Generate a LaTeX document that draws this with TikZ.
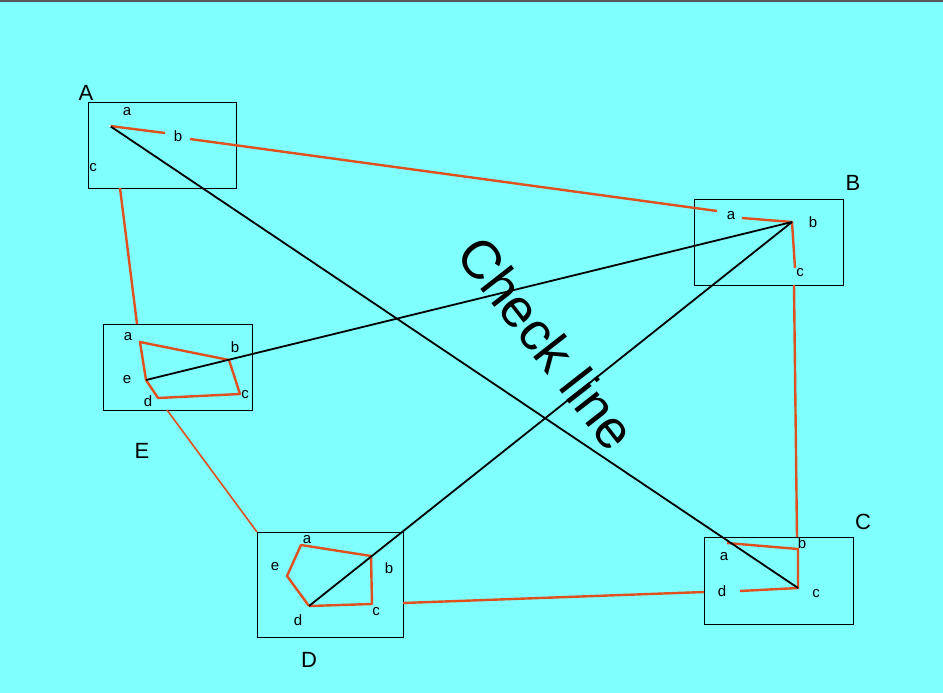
\documentclass[tikz,border=0pt]{standalone}
\usepackage{fontspec}
\setmainfont{Liberation Sans}
\definecolor{bg}{HTML}{80FFFF}
\definecolor{org}{HTML}{E0501E}
\begin{document}
\begin{tikzpicture}[x=1pt,y=-1pt,
  box/.style={draw=black,line width=0.7pt},
  ol/.style={draw=org,line width=2.4pt},
  bl/.style={draw=black,line width=1.8pt},
  lab/.style={font=\fontsize{15}{15}\selectfont},
  big/.style={font=\fontsize{22}{22}\selectfont}]
\fill[bg] (0,0) rectangle (943,693);
\fill[gray!70!black] (0,0) rectangle (943,2.5);
\useasboundingbox (0,0) rectangle (943,693);
% boxes
\draw[box] (88,102) rectangle (236,188);
\draw[box] (694,199) rectangle (843,285);
\draw[box] (704,537) rectangle (853,624);
\draw[box] (257,532) rectangle (403,637);
\draw[box] (103,324) rectangle (252,410);
% big labels
\node[big] (LA) at (86,93) {A};
\node[big] (LB) at (853,183) {B};
\node[big] (LC) at (863,522) {C};
\node[big] (LD) at (309,660) {D};
\node[big] (LE) at (142,451) {E};
% coordinates
\coordinate (Aa) at (110,126); \coordinate (Ab1) at (165,133); \coordinate (Ab2) at (190,139);
\coordinate (Ac) at (120,188);
\coordinate (Ba1) at (717,211); \coordinate (Ba2) at (742,218); \coordinate (Bb) at (792,222);
\coordinate (Bc1) at (795,268); \coordinate (Bc2) at (794,285);
\coordinate (Ca) at (727,543); \coordinate (Cb) at (798,549); \coordinate (Cbt) at (797,537);
\coordinate (Cc) at (798,588); \coordinate (Cd) at (740,591); \coordinate (Cl) at (704,592);
\coordinate (Dr) at (403,603);
\coordinate (Et) at (137,324); \coordinate (Ebl) at (167,410); \coordinate (Dtl) at (257,532);
\coordinate (Ea) at (140,342); \coordinate (Eb) at (229,360); \coordinate (Ec) at (240,394);
\coordinate (Ed) at (158,398); \coordinate (Ee) at (146,380);
\coordinate (Da) at (301,545); \coordinate (Db) at (371,556); \coordinate (Dc) at (372,604);
\coordinate (Dd) at (309,606); \coordinate (De) at (287,576);
% orange
\draw[ol] (Aa) -- (Ab1);
\draw[ol] (Ab2) -- (Ba1);
\draw[ol] (Ba2) -- (Bb) -- (Bc1);
\draw[ol] (Bc2) -- (Cbt);
\draw[ol] (Ca) -- (Cb) -- (Cc) -- (Cd);
\draw[ol] (Dr) -- (Cl);
\draw[ol] (Ac) -- (Et);
\draw[draw=org,line width=1.6pt] (Ebl) -- (Dtl);
\draw[ol,line join=round] (Ee) -- (Ea) -- (Eb) -- (Ec) -- (Ed) -- (Ee);
\draw[ol,line join=round] (Dd) -- (De) -- (Da) -- (Db) -- (Dc) -- (Dd);
% black
\draw[bl] (Aa) -- (Cc);
\draw[bl] (Ee) -- (Bb);
\draw[bl] (Dd) -- (Bb);
\fill[white] (Aa) circle (1.2);
% small labels
\node[lab] (la1) at (127,112) {a}; \node[lab] (la2) at (178,136) {b}; \node[lab] (la3) at (93,168) {c};
\node[lab] (lb1) at (731,216) {a}; \node[lab] (lb2) at (813,222) {b}; \node[lab] (lb3) at (800,273) {c};
\node[lab] (lc1) at (724,557) {a}; \node[lab] (lc2) at (802,543) {b}; \node[lab] (lc3) at (816,594) {c}; \node[lab] (lc4) at (722,591) {d};
\node[lab] (ld1) at (307,540) {a}; \node[lab] (ld2) at (389,568) {b}; \node[lab] (ld3) at (376,612) {c}; \node[lab] (ld4) at (298,620) {d}; \node[lab] (ld5) at (275,567) {e};
\node[lab] (le1) at (128,337) {a}; \node[lab] (le2) at (235,347) {b}; \node[lab] (le3) at (245,395) {c}; \node[lab] (le4) at (148,401) {d}; \node[lab] (le5) at (127,380) {e};
\node[font=\fontsize{54}{54}\selectfont, rotate=-52] (chk) at (547,343) {Check line};
\end{tikzpicture}
\end{document}
